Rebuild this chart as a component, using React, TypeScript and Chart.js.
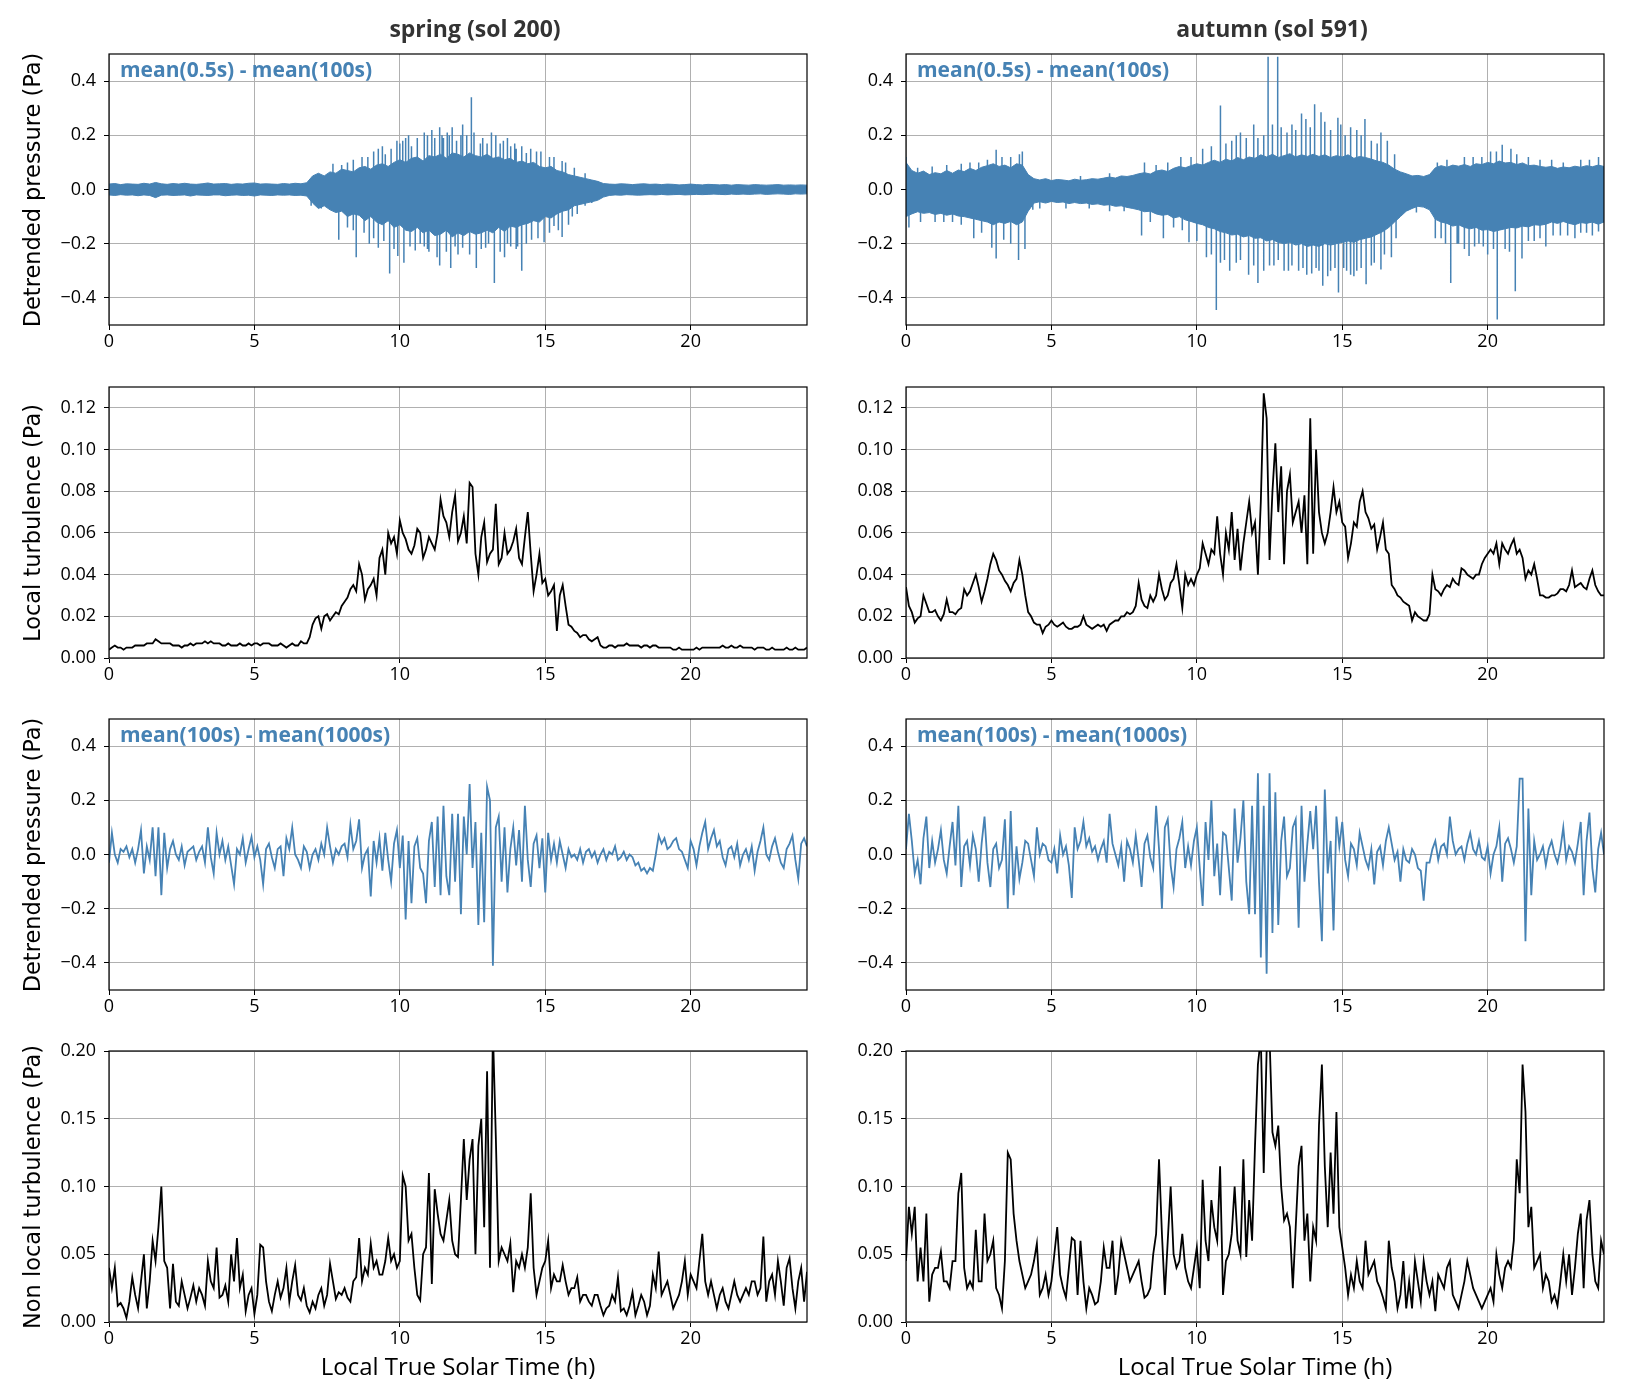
import { useEffect, useRef } from "react"
import Chart from "chart.js/auto"

const BLUE = "rgb(70, 130, 180)"
const GRID = "#b0b0b0"
const TICK_FONT = "'Open Sans', 'DejaVu Sans', sans-serif"

// axis ticks
const X_TICKS = [0, 5, 10, 15, 20]
const PRESSURE_TICKS = [-0.4, -0.2, 0, 0.2, 0.4]
const LOCAL_TICKS = [0, 0.02, 0.04, 0.06, 0.08, 0.1, 0.12]
const NONLOCAL_TICKS = [0, 0.05, 0.1, 0.15, 0.2]

const COL_TITLES = ["spring (sol 200)", "autumn (sol 591)"]
const Y_TITLES = ["Detrended pressure (Pa)", "Local turbulence (Pa)", "Detrended pressure (Pa)", "Non local turbulence (Pa)"]
const X_TITLE = "Local True Solar Time (h)"
const BAND_LABELS = ["mean(0.5s) - mean(100s)", "mean(100s) - mean(1000s)"]

const ENV_STEP = 0.2 // h, envelope of the 0.5 s signal
const FINE_STEP = 0.1 // h

// row 1: envelope of mean(0.5s) - mean(100s), spring
const SP1_UPPER = [
  0.02, 0.022, 0.018, 0.021, 0.02, 0.019, 0.023, 0.02, 0.026, 0.021,
  0.019, 0.022, 0.02, 0.023, 0.02, 0.019, 0.021, 0.024, 0.02, 0.021,
  0.022, 0.019, 0.021, 0.02, 0.023, 0.024, 0.02, 0.021, 0.02, 0.019,
  0.022, 0.02, 0.023, 0.021, 0.025,
  0.05, 0.06, 0.05, 0.065, 0.06, 0.075, 0.07, 0.065, 0.08, 0.085,
  0.075, 0.09, 0.095, 0.085, 0.1, 0.11, 0.1, 0.115, 0.12, 0.105,
  0.125, 0.12, 0.13, 0.115, 0.135, 0.13, 0.12, 0.135, 0.125, 0.12,
  0.13, 0.115, 0.12, 0.11, 0.115, 0.1, 0.105, 0.095, 0.1, 0.085,
  0.08, 0.085, 0.07, 0.065, 0.055, 0.05, 0.045, 0.04, 0.035, 0.03, 0.022,
  0.02, 0.019, 0.021, 0.02, 0.018, 0.02, 0.021, 0.019, 0.02, 0.018,
  0.02, 0.019, 0.017, 0.018, 0.02, 0.018, 0.017, 0.019, 0.018, 0.017,
  0.018, 0.016, 0.018, 0.017, 0.016, 0.018, 0.017, 0.016, 0.017, 0.018,
  0.016, 0.017, 0.016, 0.017, 0.016,
]
const SP1_LOWER = [
  -0.02, -0.022, -0.019, -0.021, -0.02, -0.023, -0.02, -0.022, -0.03, -0.021,
  -0.02, -0.022, -0.021, -0.02, -0.024, -0.02, -0.021, -0.022, -0.02, -0.02,
  -0.023, -0.021, -0.02, -0.022, -0.021, -0.024, -0.02, -0.021, -0.022, -0.02,
  -0.021, -0.02, -0.022, -0.021, -0.024,
  -0.05, -0.07, -0.06, -0.075, -0.085, -0.08, -0.1, -0.09, -0.095, -0.115,
  -0.1, -0.12, -0.13, -0.115, -0.14, -0.13, -0.15, -0.155, -0.14, -0.16,
  -0.15, -0.17, -0.165, -0.15, -0.175, -0.16, -0.17, -0.155, -0.165, -0.16,
  -0.15, -0.16, -0.14, -0.155, -0.135, -0.14, -0.13, -0.125, -0.115, -0.12,
  -0.1, -0.105, -0.09, -0.08, -0.075, -0.06, -0.055, -0.05, -0.045, -0.04, -0.028,
  -0.022, -0.02, -0.021, -0.019, -0.02, -0.021, -0.02, -0.019, -0.02, -0.018,
  -0.02, -0.019, -0.018, -0.02, -0.019, -0.018, -0.019, -0.018, -0.017, -0.018,
  -0.019, -0.017, -0.018, -0.017, -0.018, -0.017, -0.016, -0.018, -0.017, -0.016,
  -0.017, -0.018, -0.016, -0.017, -0.016,
]
// isolated peaks [time h, value Pa]
const SP1_SPIKES: [number, number][] = [
  [6.95, -0.06], [7.3, -0.07], [7.7, 0.095], [7.9, -0.185], [8.0, 0.09], [8.2, 0.1],
  [8.2, -0.14], [8.4, 0.11], [8.4, -0.15], [8.5, -0.25], [8.7, 0.12], [8.77, -0.16],
  [8.9, 0.12], [8.95, -0.2], [9.1, 0.14], [9.1, -0.18], [9.26, 0.15], [9.26, -0.215],
  [9.4, 0.16], [9.45, -0.19], [9.5, 0.13], [9.65, -0.31], [9.7, 0.15], [9.8, -0.22],
  [9.9, 0.18], [9.93, -0.245], [10.0, 0.17], [10.1, 0.18], [10.14, -0.27], [10.2, 0.19],
  [10.3, 0.2], [10.35, -0.21], [10.4, 0.16], [10.53, -0.225], [10.6, 0.19], [10.7, -0.2],
  [10.84, 0.21], [10.84, -0.21], [10.95, 0.2], [10.95, -0.22], [11.0, -0.23], [11.1, 0.22],
  [11.2, 0.19], [11.28, -0.25], [11.37, 0.23], [11.37, -0.28], [11.45, 0.2], [11.5, 0.19],
  [11.6, -0.23], [11.63, 0.21], [11.7, 0.2], [11.75, -0.29], [11.8, 0.23], [11.9, -0.21],
  [11.95, 0.18], [12.0, -0.24], [12.1, 0.2], [12.16, 0.24], [12.16, -0.215], [12.3, 0.2],
  [12.4, -0.24], [12.46, 0.34], [12.55, 0.21], [12.63, -0.29], [12.77, 0.17], [12.8, -0.22],
  [12.85, 0.19], [12.95, -0.215], [13.0, 0.17], [13.05, -0.2], [13.15, 0.21], [13.25, -0.345],
  [13.3, 0.2], [13.45, 0.17], [13.45, -0.23], [13.56, 0.18], [13.6, -0.25], [13.7, 0.19],
  [13.7, -0.2], [13.8, 0.16], [13.82, -0.21], [13.95, 0.17], [14.0, 0.15], [14.0, -0.22],
  [14.05, -0.21], [14.18, -0.3], [14.2, 0.16], [14.35, 0.135], [14.35, -0.2], [14.5, 0.15],
  [14.53, -0.185], [14.7, 0.14], [14.75, -0.18], [14.85, 0.14], [14.96, -0.195], [15.14, 0.12],
  [15.15, -0.16], [15.3, 0.12], [15.3, -0.135], [15.45, -0.15], [15.58, 0.105], [15.58, -0.175],
  [15.7, 0.1], [15.8, -0.13], [15.93, -0.1], [16.0, 0.08], [16.1, -0.09], [16.37, 0.06],
  [16.37, -0.06], [16.6, -0.05], [16.8, 0.03],
]

// row 1: envelope, autumn
const AU1_UPPER = [
  0.1, 0.07, 0.06, 0.068, 0.055, 0.062, 0.058, 0.07, 0.06, 0.072,
  0.066, 0.078, 0.07, 0.082, 0.088, 0.095, 0.085, 0.09, 0.08, 0.095,
  0.09, 0.055, 0.04, 0.035, 0.04, 0.033, 0.037, 0.035, 0.032, 0.038,
  0.034, 0.036, 0.04, 0.038, 0.042, 0.046, 0.042, 0.05, 0.048, 0.052,
  0.058, 0.062, 0.057, 0.068, 0.072, 0.066, 0.078, 0.085, 0.08, 0.088,
  0.095, 0.09, 0.1, 0.108, 0.1, 0.112, 0.105, 0.118, 0.11, 0.12,
  0.115, 0.128, 0.12, 0.13, 0.118, 0.125, 0.132, 0.12, 0.128, 0.122,
  0.13, 0.122, 0.128, 0.118, 0.125, 0.12, 0.128, 0.115, 0.122, 0.118,
  0.112, 0.105, 0.1, 0.09, 0.075, 0.065, 0.058, 0.05, 0.052, 0.048,
  0.055, 0.08, 0.088, 0.082, 0.09, 0.086, 0.092, 0.085, 0.095, 0.092,
  0.1, 0.095, 0.105, 0.098, 0.1, 0.092, 0.098, 0.088, 0.09, 0.085,
  0.082, 0.085, 0.078, 0.083, 0.08, 0.086, 0.082, 0.088, 0.084, 0.09,
  0.085,
]
const AU1_LOWER = [
  -0.1, -0.09, -0.082, -0.088, -0.085, -0.092, -0.088, -0.095, -0.09, -0.098,
  -0.1, -0.105, -0.11, -0.115, -0.12, -0.13, -0.12, -0.125, -0.118, -0.13,
  -0.12, -0.08, -0.05, -0.045, -0.05, -0.044, -0.048, -0.046, -0.052, -0.048,
  -0.052, -0.05, -0.055, -0.053, -0.058, -0.056, -0.062, -0.06, -0.066, -0.07,
  -0.075, -0.082, -0.08, -0.09, -0.095, -0.092, -0.105, -0.1, -0.112, -0.118,
  -0.125, -0.13, -0.14, -0.145, -0.155, -0.16, -0.168, -0.165, -0.175, -0.17,
  -0.18, -0.178, -0.19, -0.185, -0.195, -0.2, -0.195, -0.205, -0.2, -0.21,
  -0.205, -0.21, -0.2, -0.205, -0.2, -0.195, -0.19, -0.195, -0.185, -0.18,
  -0.175, -0.165, -0.155, -0.14, -0.12, -0.1, -0.08, -0.07, -0.062, -0.065,
  -0.075, -0.11, -0.12, -0.125, -0.135, -0.13, -0.14, -0.145, -0.14, -0.15,
  -0.148, -0.155, -0.15, -0.145, -0.14, -0.142, -0.135, -0.138, -0.13, -0.132,
  -0.128, -0.12, -0.125, -0.118, -0.125, -0.13, -0.122, -0.125, -0.12, -0.128,
  -0.12,
]
const AU1_SPIKES: [number, number][] = [
  [0.0, 0.12], [0.1, -0.14], [0.4, 0.08], [0.5, -0.12], [0.9, 0.085], [1.0, -0.12],
  [1.3, -0.12], [1.4, 0.09], [1.6, -0.12], [1.9, 0.095], [1.9, -0.13], [2.2, 0.1],
  [2.33, -0.18], [2.5, 0.1], [2.6, -0.16], [2.8, 0.11], [2.95, -0.215], [3.1, 0.147],
  [3.1, -0.255], [3.3, 0.12], [3.36, -0.185], [3.6, 0.12], [3.6, -0.2], [3.87, -0.26],
  [3.9, 0.13], [4.0, 0.14], [4.09, -0.22], [4.36, -0.075], [4.6, -0.07], [5.5, -0.07],
  [6.0, 0.05], [6.3, -0.07], [7.0, 0.06], [7.0, -0.08], [7.5, -0.08], [8.1, -0.17],
  [8.2, 0.1], [8.4, -0.12], [8.6, 0.09], [8.85, -0.18], [9.0, 0.1], [9.2, -0.14],
  [9.45, 0.12], [9.5, -0.15], [9.73, -0.195], [9.8, 0.12], [10.0, -0.19], [10.2, 0.15],
  [10.33, -0.25], [10.5, 0.16], [10.5, -0.24], [10.67, -0.445], [10.8, 0.31], [10.82, -0.27],
  [10.95, -0.26], [11.0, 0.17], [11.13, -0.3], [11.2, 0.18], [11.35, -0.27], [11.36, 0.2],
  [11.5, 0.21], [11.5, -0.26], [11.7, 0.19], [11.78, -0.315], [11.95, -0.28], [11.96, 0.24],
  [12.1, 0.19], [12.1, -0.345], [12.3, 0.2], [12.3, -0.3], [12.45, 0.49], [12.5, -0.28],
  [12.6, 0.24], [12.65, -0.28], [12.78, 0.49], [12.8, -0.26], [12.9, 0.23], [13.0, -0.3],
  [13.1, 0.21], [13.15, -0.3], [13.27, 0.24], [13.27, -0.28], [13.4, 0.22], [13.5, -0.3],
  [13.6, 0.28], [13.65, -0.29], [13.75, 0.26], [13.78, -0.315], [13.9, 0.23], [13.95, -0.31],
  [14.05, 0.315], [14.1, -0.29], [14.2, -0.3], [14.27, 0.285], [14.33, -0.355], [14.4, 0.25],
  [14.5, -0.32], [14.6, 0.22], [14.6, -0.3], [14.75, -0.29], [14.85, 0.265], [14.87, -0.38],
  [14.95, 0.24], [15.05, -0.29], [15.1, 0.2], [15.15, -0.3], [15.27, -0.315], [15.3, 0.23],
  [15.4, -0.32], [15.5, 0.22], [15.5, -0.3], [15.65, 0.2], [15.65, -0.29], [15.78, 0.26],
  [15.82, -0.35], [16.0, 0.18], [16.0, -0.28], [16.1, -0.27], [16.2, 0.17], [16.33, 0.21],
  [16.33, -0.295], [16.45, -0.24], [16.55, 0.18], [16.69, -0.25], [16.8, 0.13], [16.85, -0.18],
  [17.55, -0.085], [18.2, -0.18], [18.27, 0.1], [18.4, -0.18], [18.55, -0.2], [18.6, 0.11],
  [18.73, -0.345], [18.95, -0.2], [19.0, -0.2], [19.2, 0.12], [19.2, -0.22], [19.36, -0.245],
  [19.5, 0.12], [19.55, -0.21], [19.7, -0.2], [19.8, 0.12], [19.85, -0.21], [20.0, -0.24],
  [20.1, 0.14], [20.2, -0.22], [20.3, 0.14], [20.33, -0.48], [20.5, 0.165], [20.6, -0.22],
  [20.75, -0.23], [20.8, 0.15], [20.95, -0.375], [21.0, 0.13], [21.18, -0.255], [21.4, 0.12],
  [21.4, -0.19], [21.6, -0.19], [21.8, 0.11], [21.8, -0.18], [22.0, -0.21], [22.2, 0.11],
  [22.25, -0.17], [22.5, -0.17], [22.6, 0.1], [22.75, -0.17], [23.0, -0.18], [23.2, 0.11],
  [23.2, -0.16], [23.4, -0.16], [23.5, 0.11], [23.6, -0.17], [23.8, 0.12], [23.82, -0.155],
]

// row 2: local turbulence (Pa), every 0.1 h
const SP2_LOCAL = [
  0.004, 0.005, 0.006, 0.005, 0.005, 0.004, 0.005, 0.005, 0.005, 0.006,
  0.006, 0.006, 0.006, 0.007, 0.007, 0.007, 0.009, 0.008, 0.007, 0.007,
  0.007, 0.007, 0.006, 0.006, 0.006, 0.005, 0.006, 0.006, 0.007, 0.006,
  0.007, 0.007, 0.007, 0.008, 0.007, 0.008, 0.007, 0.007, 0.007, 0.006,
  0.006, 0.007, 0.006, 0.006, 0.006, 0.007, 0.006, 0.006, 0.007, 0.006,
  0.007, 0.007, 0.006, 0.007, 0.007, 0.007, 0.006, 0.006, 0.006, 0.007,
  0.006, 0.005, 0.006, 0.007, 0.006, 0.006, 0.008, 0.007, 0.007, 0.01,
  0.016, 0.019, 0.02, 0.014, 0.02, 0.021, 0.018, 0.02, 0.022, 0.021,
  0.025, 0.027, 0.029, 0.033, 0.035, 0.032, 0.045, 0.04, 0.028, 0.033,
  0.035, 0.038, 0.03, 0.048, 0.052, 0.04, 0.06, 0.055, 0.058, 0.05,
  0.066, 0.06, 0.057, 0.052, 0.05, 0.054, 0.062, 0.06, 0.048, 0.052,
  0.058, 0.055, 0.052, 0.06, 0.076, 0.068, 0.065, 0.058, 0.07, 0.078,
  0.056, 0.06, 0.068, 0.055, 0.084, 0.082, 0.05, 0.04, 0.058, 0.065,
  0.046, 0.05, 0.052, 0.074, 0.045, 0.048, 0.06, 0.05, 0.052, 0.056,
  0.062, 0.048, 0.045, 0.058, 0.07, 0.05, 0.032, 0.04, 0.05, 0.036,
  0.038, 0.03, 0.032, 0.035, 0.013, 0.03, 0.035, 0.025, 0.016, 0.015,
  0.013, 0.012, 0.01, 0.011, 0.011, 0.009, 0.008, 0.009, 0.01, 0.006,
  0.005, 0.005, 0.006, 0.006, 0.005, 0.006, 0.006, 0.006, 0.007, 0.006,
  0.006, 0.006, 0.006, 0.005, 0.006, 0.006, 0.005, 0.006, 0.006, 0.005,
  0.005, 0.005, 0.005, 0.005, 0.004, 0.004, 0.005, 0.004, 0.004, 0.004,
  0.004, 0.004, 0.005, 0.004, 0.005, 0.005, 0.005, 0.005, 0.005, 0.005,
  0.005, 0.006, 0.005, 0.005, 0.006, 0.005, 0.005, 0.006, 0.005, 0.005,
  0.005, 0.005, 0.004, 0.005, 0.005, 0.005, 0.004, 0.004, 0.005, 0.004,
  0.004, 0.004, 0.004, 0.005, 0.004, 0.004, 0.005, 0.004, 0.004, 0.004,
  0.005,
]
const AU2_LOCAL = [
  0.034, 0.025, 0.022, 0.017, 0.019, 0.02, 0.03, 0.026, 0.022, 0.022,
  0.023, 0.02, 0.018, 0.021, 0.028, 0.022, 0.022, 0.021, 0.023, 0.024,
  0.033, 0.03, 0.032, 0.036, 0.04, 0.034, 0.027, 0.032, 0.038, 0.045,
  0.05, 0.047, 0.042, 0.04, 0.037, 0.035, 0.032, 0.036, 0.038, 0.047,
  0.04, 0.03, 0.022, 0.02, 0.017, 0.016, 0.016, 0.012, 0.015, 0.016,
  0.018, 0.016, 0.015, 0.016, 0.017, 0.015, 0.014, 0.014, 0.015, 0.015,
  0.016, 0.02, 0.016, 0.015, 0.014, 0.015, 0.016, 0.015, 0.016, 0.013,
  0.016, 0.017, 0.018, 0.018, 0.02, 0.02, 0.022, 0.021, 0.022, 0.025,
  0.036, 0.028, 0.025, 0.024, 0.03, 0.027, 0.03, 0.04, 0.033, 0.028,
  0.03, 0.036, 0.038, 0.045, 0.035, 0.024, 0.04, 0.035, 0.038, 0.035,
  0.04, 0.043, 0.055, 0.05, 0.045, 0.052, 0.05, 0.068, 0.05, 0.04,
  0.06, 0.052, 0.07, 0.047, 0.062, 0.042, 0.055, 0.065, 0.075, 0.06,
  0.065, 0.04, 0.075, 0.127, 0.115, 0.047, 0.08, 0.103, 0.07, 0.092,
  0.045, 0.08, 0.088, 0.065, 0.07, 0.075, 0.06, 0.078, 0.045, 0.115,
  0.05, 0.1, 0.07, 0.06, 0.055, 0.06, 0.07, 0.082, 0.07, 0.075,
  0.065, 0.063, 0.048, 0.055, 0.065, 0.063, 0.075, 0.08, 0.07, 0.067,
  0.062, 0.064, 0.052, 0.058, 0.065, 0.052, 0.05, 0.035, 0.033, 0.03,
  0.029, 0.027, 0.026, 0.025, 0.018, 0.022, 0.02, 0.019, 0.018, 0.018,
  0.021, 0.04, 0.033, 0.032, 0.03, 0.033, 0.035, 0.034, 0.038, 0.036,
  0.035, 0.043, 0.042, 0.04, 0.039, 0.038, 0.04, 0.04, 0.045, 0.048,
  0.05, 0.052, 0.05, 0.055, 0.045, 0.055, 0.052, 0.05, 0.054, 0.057,
  0.05, 0.052, 0.048, 0.038, 0.042, 0.04, 0.045, 0.038, 0.03, 0.03,
  0.029, 0.029, 0.03, 0.03, 0.031, 0.033, 0.033, 0.032, 0.035, 0.042,
  0.034, 0.035, 0.036, 0.034, 0.033, 0.038, 0.042, 0.035, 0.032, 0.03,
  0.03,
]

// row 3: mean(100s) - mean(1000s) (Pa), every 0.1 h
const SP3_PRESSURE = [
  -0.03, 0.08, 0.0, -0.03, 0.02, 0.01, 0.03, -0.01, 0.02, -0.03,
  0.02, 0.09, -0.07, 0.03, -0.02, 0.1, -0.08, 0.1, -0.15, 0.08,
  -0.05, 0.02, 0.05, 0.0, -0.02, 0.03, -0.04, 0.01, 0.02, 0.03,
  -0.02, 0.01, 0.03, -0.03, 0.1, -0.01, -0.07, 0.08, 0.0, 0.05,
  -0.02, 0.03, -0.04, -0.11, 0.02, 0.0, 0.06, -0.03, 0.02, 0.065,
  -0.01, 0.03, -0.02, -0.11, 0.02, 0.04, -0.01, -0.05, 0.02, 0.03,
  -0.08, 0.06, 0.02, 0.1, 0.0, -0.02, -0.05, 0.03, 0.01, -0.05,
  0.0, 0.02, -0.02, 0.04, 0.0, 0.1, 0.03, -0.03, 0.02, 0.0,
  0.03, 0.04, -0.01, 0.11, 0.02, 0.05, 0.13, -0.05, 0.0, 0.02,
  -0.155, 0.05, -0.03, 0.06, -0.06, 0.08, -0.02, -0.1, 0.04, 0.09,
  -0.05, 0.07, -0.24, 0.05, -0.18, 0.03, 0.06, -0.05, -0.07, -0.18,
  0.05, 0.12, -0.12, 0.14, -0.15, 0.18, -0.08, -0.15, 0.15, -0.1,
  0.15, -0.22, 0.14, 0.0, 0.26, -0.05, 0.12, -0.26, 0.08, -0.25,
  0.25, 0.2, -0.41, 0.1, 0.14, -0.1, 0.1, -0.14, 0.02, 0.1,
  -0.04, 0.09, -0.1, 0.18, -0.02, -0.12, 0.04, 0.07, -0.05, 0.06,
  -0.14, 0.08, -0.02, 0.04, -0.03, 0.05, 0.0, -0.05, 0.02, -0.01,
  0.0, -0.02, 0.02, -0.03, 0.01, 0.02, -0.01, 0.01, -0.03, 0.0,
  0.02, -0.02, 0.01, 0.0, 0.03, -0.02, -0.01, 0.01, -0.02, 0.0,
  -0.01, -0.04, -0.03, -0.06, -0.05, -0.07, -0.05, -0.06, 0.0, 0.07,
  0.04, 0.06, 0.02, 0.03, 0.05, 0.06, 0.02, 0.01, -0.02, -0.05,
  0.05, 0.02, -0.04, 0.03, 0.08, 0.12, 0.02, 0.06, 0.09, 0.03,
  0.05, -0.01, -0.04, 0.02, 0.03, -0.01, 0.04, -0.04, 0.0, 0.02,
  -0.02, 0.03, -0.06, 0.01, 0.05, 0.1, 0.0, -0.02, 0.03, 0.06,
  0.01, -0.03, -0.05, 0.02, 0.04, 0.07, -0.02, -0.09, 0.04, 0.06,
  0.03,
]
const AU3_PRESSURE = [
  0.02, 0.15, 0.05, -0.07, -0.02, -0.11, 0.06, 0.14, -0.05, 0.05,
  -0.03, 0.02, 0.09, -0.02, -0.07, 0.03, 0.12, -0.04, 0.18, -0.12,
  0.03, 0.05, -0.04, 0.07, 0.02, -0.1, 0.04, 0.14, -0.03, -0.12,
  0.02, 0.04, -0.05, -0.02, 0.13, -0.2, 0.16, -0.15, 0.03, -0.09,
  -0.03, 0.05, 0.04, -0.02, -0.08, 0.1, 0.0, 0.04, 0.03, -0.02,
  -0.03, 0.02, -0.07, 0.07, 0.0, 0.03, -0.04, -0.16, 0.1, 0.02,
  0.05, 0.12, 0.03, 0.06, 0.01, 0.03, -0.02, 0.02, 0.05, -0.03,
  0.15, 0.04, 0.0, -0.04, 0.03, -0.1, 0.05, 0.02, -0.03, 0.07,
  -0.02, -0.12, 0.04, 0.07, -0.01, -0.05, 0.18, 0.02, -0.2, 0.1,
  0.13, -0.04, -0.12, 0.02, 0.06, 0.12, -0.05, 0.03, -0.04, 0.05,
  0.1, -0.05, -0.19, 0.12, -0.02, 0.2, -0.08, 0.04, -0.15, 0.08,
  0.07, -0.05, -0.17, 0.17, -0.03, 0.06, 0.2, -0.1, -0.22, 0.18,
  -0.22, 0.3, -0.38, 0.18, -0.44, 0.3, -0.29, 0.23, -0.26, 0.05,
  0.14, -0.08, -0.05, 0.1, 0.13, -0.27, 0.18, -0.1, 0.04, 0.16,
  0.02, 0.18, -0.1, -0.32, 0.24, -0.07, 0.05, -0.28, 0.14, 0.03,
  0.12, -0.02, -0.08, 0.04, 0.02, -0.04, 0.08, 0.03, -0.02, -0.05,
  0.02, -0.11, 0.01, 0.03, -0.04, 0.05, 0.1, 0.04, -0.02, 0.01,
  -0.1, 0.02, -0.02, -0.03, 0.02, 0.0, -0.05, -0.06, -0.17, -0.03,
  -0.03, 0.02, 0.05, -0.02, 0.03, 0.04, 0.0, 0.14, 0.05, 0.0,
  0.02, 0.03, -0.02, 0.04, 0.08, 0.02, 0.0, 0.05, -0.01, -0.02,
  0.03, -0.07, 0.0, 0.03, 0.1, -0.1, 0.04, 0.06, 0.02, -0.03,
  0.03, 0.28, 0.28, -0.32, 0.17, -0.15, 0.05, -0.02, 0.0, 0.03,
  -0.04, 0.02, 0.05, 0.0, -0.03, 0.02, 0.1, -0.02, 0.03, 0.01,
  -0.03, 0.04, 0.12, -0.15, 0.05, 0.155, -0.05, -0.14, 0.02, 0.08,
  0.0,
]

// row 4: non local turbulence (Pa), every 0.1 h
const SP4_NONLOCAL = [
  0.04, 0.025, 0.04, 0.012, 0.014, 0.01, 0.003, 0.015, 0.033, 0.02,
  0.01, 0.03, 0.05, 0.01, 0.03, 0.06, 0.045, 0.07, 0.1, 0.045,
  0.04, 0.01, 0.043, 0.015, 0.012, 0.03, 0.02, 0.01, 0.018, 0.027,
  0.015, 0.025, 0.02, 0.012, 0.045, 0.03, 0.025, 0.055, 0.018, 0.02,
  0.027, 0.015, 0.05, 0.03, 0.062, 0.025, 0.035, 0.008, 0.02, 0.025,
  0.006, 0.02, 0.057, 0.055, 0.03, 0.015, 0.008, 0.02, 0.03, 0.018,
  0.025, 0.04, 0.015, 0.03, 0.042, 0.02, 0.016, 0.025, 0.012, 0.007,
  0.015, 0.01, 0.02, 0.025, 0.012, 0.02, 0.043, 0.03, 0.017, 0.022,
  0.02, 0.025, 0.018, 0.015, 0.03, 0.033, 0.062, 0.03, 0.04, 0.035,
  0.058, 0.04, 0.045, 0.035, 0.035, 0.045, 0.062, 0.045, 0.05, 0.04,
  0.045, 0.108, 0.1, 0.06, 0.065, 0.04, 0.02, 0.016, 0.05, 0.055,
  0.11, 0.028, 0.098, 0.08, 0.065, 0.06, 0.075, 0.09, 0.06, 0.05,
  0.048, 0.09, 0.135, 0.09, 0.12, 0.135, 0.05, 0.13, 0.15, 0.07,
  0.185, 0.04, 0.215, 0.137, 0.045, 0.055, 0.05, 0.045, 0.058, 0.022,
  0.045, 0.04, 0.05, 0.04, 0.055, 0.095, 0.04, 0.02, 0.03, 0.04,
  0.045, 0.06, 0.025, 0.035, 0.03, 0.03, 0.042, 0.03, 0.02, 0.025,
  0.025, 0.033, 0.015, 0.02, 0.02, 0.015, 0.012, 0.02, 0.02, 0.012,
  0.005, 0.01, 0.012, 0.02, 0.015, 0.033, 0.008, 0.01, 0.005, 0.012,
  0.022, 0.005, 0.012, 0.02, 0.015, 0.005, 0.012, 0.035, 0.025, 0.052,
  0.02, 0.025, 0.03, 0.02, 0.01, 0.015, 0.02, 0.03, 0.045, 0.02,
  0.035, 0.03, 0.025, 0.045, 0.065, 0.03, 0.02, 0.03, 0.02, 0.01,
  0.02, 0.025, 0.015, 0.01, 0.02, 0.03, 0.02, 0.015, 0.02, 0.025,
  0.02, 0.03, 0.03, 0.02, 0.025, 0.063, 0.015, 0.03, 0.035, 0.02,
  0.045, 0.03, 0.012, 0.04, 0.047, 0.025, 0.01, 0.03, 0.04, 0.015,
  0.037,
]
const AU4_NONLOCAL = [
  0.045, 0.085, 0.065, 0.085, 0.03, 0.055, 0.03, 0.08, 0.015, 0.035,
  0.04, 0.04, 0.052, 0.03, 0.03, 0.025, 0.045, 0.045, 0.095, 0.11,
  0.04, 0.025, 0.03, 0.025, 0.068, 0.03, 0.03, 0.08, 0.045, 0.05,
  0.06, 0.025, 0.02, 0.01, 0.045, 0.125, 0.12, 0.08, 0.06, 0.045,
  0.035, 0.025, 0.03, 0.035, 0.045, 0.058, 0.02, 0.025, 0.035, 0.02,
  0.03, 0.05, 0.07, 0.035, 0.025, 0.018, 0.04, 0.062, 0.06, 0.02,
  0.06, 0.03, 0.01, 0.025, 0.02, 0.013, 0.015, 0.03, 0.055, 0.04,
  0.04, 0.06, 0.02, 0.035, 0.06, 0.05, 0.04, 0.03, 0.035, 0.04,
  0.045, 0.03, 0.018, 0.02, 0.025, 0.05, 0.065, 0.12, 0.065, 0.02,
  0.06, 0.1, 0.05, 0.04, 0.045, 0.065, 0.04, 0.03, 0.025, 0.04,
  0.055, 0.025, 0.105, 0.06, 0.045, 0.09, 0.07, 0.06, 0.115, 0.02,
  0.045, 0.05, 0.065, 0.1, 0.06, 0.05, 0.12, 0.048, 0.09, 0.06,
  0.13, 0.19, 0.21, 0.11, 0.2, 0.21, 0.14, 0.13, 0.145, 0.1,
  0.075, 0.08, 0.07, 0.025, 0.07, 0.115, 0.13, 0.06, 0.08, 0.03,
  0.07, 0.06, 0.145, 0.19, 0.115, 0.07, 0.125, 0.08, 0.155, 0.07,
  0.055, 0.04, 0.02, 0.035, 0.025, 0.045, 0.03, 0.025, 0.06, 0.035,
  0.04, 0.045, 0.03, 0.025, 0.018, 0.01, 0.06, 0.04, 0.03, 0.01,
  0.02, 0.045, 0.01, 0.03, 0.01, 0.045, 0.03, 0.015, 0.045, 0.03,
  0.02, 0.03, 0.008, 0.035, 0.03, 0.025, 0.04, 0.045, 0.02, 0.015,
  0.01, 0.02, 0.03, 0.045, 0.035, 0.025, 0.02, 0.015, 0.01, 0.015,
  0.02, 0.025, 0.015, 0.05, 0.035, 0.025, 0.04, 0.045, 0.04, 0.06,
  0.12, 0.095, 0.19, 0.155, 0.07, 0.085, 0.04, 0.045, 0.05, 0.025,
  0.035, 0.03, 0.015, 0.02, 0.012, 0.03, 0.05, 0.03, 0.05, 0.02,
  0.04, 0.065, 0.08, 0.025, 0.075, 0.09, 0.05, 0.03, 0.025, 0.06,
  0.05,
]

// figure layout
const COL_LEFT = [109, 906]
const ROW_TOP = [54, 387, 719, 1051]
const AX_W = 698
const AX_H = 271
const Y_AXIS_W = 80
const X_AXIS_H = 36
const PAD_TOP = 22
const PAD_RIGHT = 12

function series(values: number[], step: number) {
  return values.map((v, i) => ({ x: Math.round(i * step * 100) / 100, y: v }))
}

function spikes(list: [number, number][]) {
  return list.flatMap(([t, v]) => [
    { x: t, y: 0 },
    { x: t, y: v },
    { x: t, y: 0 },
  ])
}

const framePlugin = {
  id: "frame",
  afterDraw(chart: any) {
    const { ctx, chartArea: a } = chart
    ctx.save()
    ctx.strokeStyle = "#000"
    ctx.lineWidth = 1.2
    ctx.strokeRect(a.left, a.top, a.right - a.left, a.bottom - a.top)
    ctx.restore()
  },
}

function fmt(v: number, digits: number) {
  return Math.abs(v) < 1e-9 ? (0).toFixed(digits) : v.toFixed(digits).replace("-", "\u2212")
}

interface PanelProps {
  col: number
  row: number
  datasets: any[]
  yMin: number
  yMax: number
  yTicks: number[]
  digits: number
}

function Panel({ col, row, datasets, yMin, yMax, yTicks, digits }: PanelProps) {
  const ref = useRef<HTMLCanvasElement>(null)
  const chartRef = useRef<Chart | null>(null)

  useEffect(() => {
    if (!ref.current) return
    if (chartRef.current) chartRef.current.destroy()
    const tickFont = { family: TICK_FONT, size: 18 }

    chartRef.current = new Chart(ref.current, {
      type: "line",
      data: { datasets },
      options: {
        animation: false,
        responsive: false,
        events: [],
        layout: { padding: { top: PAD_TOP, right: PAD_RIGHT, left: 0, bottom: 0 } },
        plugins: {
          legend: { display: false },
          tooltip: { enabled: false },
        },
        elements: { point: { radius: 0 }, line: { tension: 0 } },
        scales: {
          x: {
            type: "linear",
            min: 0,
            max: 24,
            afterFit: (axis: any) => {
              axis.height = X_AXIS_H
            },
            afterBuildTicks: (axis: any) => {
              axis.ticks = X_TICKS.map((value) => ({ value }))
            },
            ticks: {
              font: tickFont,
              color: "#000",
              padding: 1,
              maxRotation: 0,
              callback: (v: any) => String(v),
            },
            grid: { color: GRID, lineWidth: 1, tickColor: "#000", tickLength: 5 },
            border: { display: false },
          },
          y: {
            type: "linear",
            min: yMin,
            max: yMax,
            afterFit: (axis: any) => {
              axis.width = Y_AXIS_W
            },
            afterBuildTicks: (axis: any) => {
              axis.ticks = yTicks.map((value) => ({ value }))
            },
            ticks: {
              font: tickFont,
              color: "#000",
              padding: 8,
              callback: (v: any) => fmt(Number(v), digits),
            },
            grid: { color: GRID, lineWidth: 1, tickColor: "#000", tickLength: 5 },
            border: { display: false },
          },
        },
      },
      plugins: [framePlugin],
    })

    return () => {
      if (chartRef.current) {
        chartRef.current.destroy()
        chartRef.current = null
      }
    }
  }, [datasets, yMin, yMax, yTicks, digits])

  return (
    <canvas
      ref={ref}
      width={Y_AXIS_W + AX_W + PAD_RIGHT}
      height={PAD_TOP + AX_H + X_AXIS_H}
      style={{
        position: "absolute",
        left: COL_LEFT[col] - Y_AXIS_W,
        top: ROW_TOP[row] - PAD_TOP,
      }}
    />
  )
}

function bandDatasets(upper: number[], lower: number[], peaks: [number, number][]) {
  return [
    { data: series(upper, ENV_STEP), borderColor: BLUE, backgroundColor: BLUE, borderWidth: 1, fill: "+1" },
    { data: series(lower, ENV_STEP), borderColor: BLUE, borderWidth: 1, fill: false },
    { data: spikes(peaks), borderColor: BLUE, borderWidth: 1.5, fill: false },
  ]
}

function lineDataset(values: number[], color: string) {
  return [{ data: series(values, FINE_STEP), borderColor: color, borderWidth: 1.8, fill: false }]
}

const PANELS = [
  { col: 0, row: 0, datasets: bandDatasets(SP1_UPPER, SP1_LOWER, SP1_SPIKES), yMin: -0.5, yMax: 0.5, yTicks: PRESSURE_TICKS, digits: 1 },
  { col: 1, row: 0, datasets: bandDatasets(AU1_UPPER, AU1_LOWER, AU1_SPIKES), yMin: -0.5, yMax: 0.5, yTicks: PRESSURE_TICKS, digits: 1 },
  { col: 0, row: 1, datasets: lineDataset(SP2_LOCAL, "#000"), yMin: 0, yMax: 0.13, yTicks: LOCAL_TICKS, digits: 2 },
  { col: 1, row: 1, datasets: lineDataset(AU2_LOCAL, "#000"), yMin: 0, yMax: 0.13, yTicks: LOCAL_TICKS, digits: 2 },
  { col: 0, row: 2, datasets: lineDataset(SP3_PRESSURE, BLUE), yMin: -0.5, yMax: 0.5, yTicks: PRESSURE_TICKS, digits: 1 },
  { col: 1, row: 2, datasets: lineDataset(AU3_PRESSURE, BLUE), yMin: -0.5, yMax: 0.5, yTicks: PRESSURE_TICKS, digits: 1 },
  { col: 0, row: 3, datasets: lineDataset(SP4_NONLOCAL, "#000"), yMin: 0, yMax: 0.2, yTicks: NONLOCAL_TICKS, digits: 2 },
  { col: 1, row: 3, datasets: lineDataset(AU4_NONLOCAL, "#000"), yMin: 0, yMax: 0.2, yTicks: NONLOCAL_TICKS, digits: 2 },
]

const textBase: React.CSSProperties = { position: "absolute", whiteSpace: "nowrap", lineHeight: 1 }

export default function App() {
  return (
    <div style={{ position: "absolute", left: 0, top: 0, width: 1626, height: 1400, background: "#fff" }}>
      {PANELS.map((p) => (
        <Panel key={`${p.col}-${p.row}`} {...p} />
      ))}

      {COL_TITLES.map((t, c) => (
        <div
          key={t}
          style={{
            ...textBase,
            left: COL_LEFT[c] + AX_W / 2 + 17,
            top: 28,
            transform: "translate(-50%, -50%)",
            fontFamily: "'Open Sans', sans-serif",
            fontWeight: 700,
            fontSize: 23,
            color: "#333",
          }}
        >
          {t}
        </div>
      ))}

      {[0, 1].map((c) =>
        [0, 2].map((r, k) => (
          <div
            key={`band-${c}-${r}`}
            style={{
              ...textBase,
              left: COL_LEFT[c] + 11,
              top: ROW_TOP[r] + 15,
              transform: "translateY(-50%)",
              fontFamily: "'Open Sans', sans-serif",
              fontWeight: 700,
              fontSize: 21,
              color: BLUE,
            }}
          >
            {BAND_LABELS[k]}
          </div>
        ))
      )}

      {Y_TITLES.map((t, r) => (
        <div
          key={`y-${r}`}
          style={{
            ...textBase,
            left: 32,
            top: ROW_TOP[r] + AX_H / 2,
            transform: "translate(-50%, -50%) rotate(-90deg)",
            fontFamily: "'DejaVu Sans', sans-serif",
            fontSize: 22.5,
            color: "#000",
          }}
        >
          {t}
        </div>
      ))}

      {[0, 1].map((c) => (
        <div
          key={`x-${c}`}
          style={{
            ...textBase,
            left: COL_LEFT[c] + AX_W / 2,
            top: 1366,
            transform: "translate(-50%, -50%)",
            fontFamily: "'Open Sans', sans-serif",
            fontSize: 24,
            color: "#000",
          }}
        >
          {X_TITLE}
        </div>
      ))}
    </div>
  )
}
